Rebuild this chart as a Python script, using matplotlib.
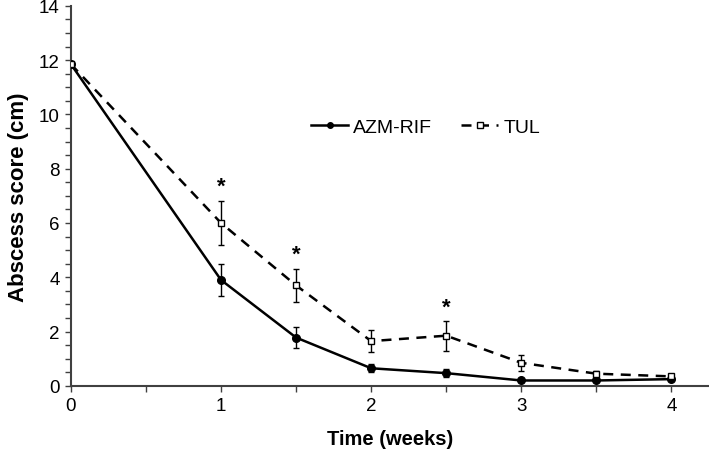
import numpy as np
import matplotlib
matplotlib.use("Agg")
import matplotlib.pyplot as plt
from matplotlib.lines import Line2D
from matplotlib.ticker import MultipleLocator

plt.rcParams['font.family'] = ['Liberation Sans', 'DejaVu Sans']

weeks = [0, 1, 1.5, 2, 2.5, 3, 3.5, 4]
azm_rif = [11.85, 3.9, 1.78, 0.65, 0.47, 0.2, 0.2, 0.25]
azm_err = [0.0, 0.6, 0.4, 0.15, 0.15, 0.05, 0.05, 0.05]
tul = [11.85, 6.0, 3.7, 1.65, 1.85, 0.85, 0.45, 0.35]
tul_err = [0.0, 0.8, 0.6, 0.4, 0.55, 0.3, 0.1, 0.05]
star_x = [1, 1.5, 2.5]
star_y = [7.35, 4.85, 2.9]

dash = (0, (4, 3))

fig = plt.figure(figsize=(7.09, 4.52), dpi=100)
ax = fig.add_axes([0.1, 0.144, 0.9, 0.841])

ax.errorbar(weeks, azm_rif, yerr=azm_err, color="black", lw=1.8, marker="o",
            ms=5.5, capsize=2.5, elinewidth=1.0, capthick=1.0, zorder=3)
ax.errorbar(weeks, tul, yerr=tul_err, color="black", lw=1.8, ls=dash,
            marker="s", ms=5, mfc="white", mec="black", mew=1.0, capsize=2.5,
            elinewidth=1.0, capthick=1.0, zorder=4)

for x, y in zip(star_x, star_y):
    ax.text(x, y, "*", ha="center", va="center", fontsize=16, fontweight="bold")

ax.set_xlim(0, 4.25)
ax.set_ylim(0, 14)
ax.xaxis.set_major_locator(MultipleLocator(1))
ax.xaxis.set_minor_locator(MultipleLocator(0.5))
ax.yaxis.set_major_locator(MultipleLocator(2))
ax.yaxis.set_minor_locator(MultipleLocator(0.5))
ax.tick_params(which="both", direction="out", color="#404040", labelsize=13.5,
               length=4.5, width=1.0)

for s in ["top", "right"]:
    ax.spines[s].set_visible(False)
for s in ["left", "bottom"]:
    ax.spines[s].set_color("#404040")
    ax.spines[s].set_linewidth(1.5)

ax.set_xlabel("Time (weeks)", fontsize=14.5, fontweight="bold", labelpad=11)
ax.set_ylabel("Abscess score (cm)", fontsize=16, fontweight="bold", labelpad=7)

handles = [
    Line2D([], [], color="black", lw=1.8, marker="o", ms=4),
    Line2D([], [], color="black", lw=1.8, ls=dash, marker="s", ms=4.5,
           mfc="white", mec="black", mew=1.0),
]
ax.legend(handles, ["AZM-RIF", "TUL"], loc="center", bbox_to_anchor=(0.556, 0.68),
          ncol=2, frameon=False, fontsize=14, handlelength=1.9,
          columnspacing=1.5, handletextpad=0.25)

fig.savefig("out.png", dpi=100)
